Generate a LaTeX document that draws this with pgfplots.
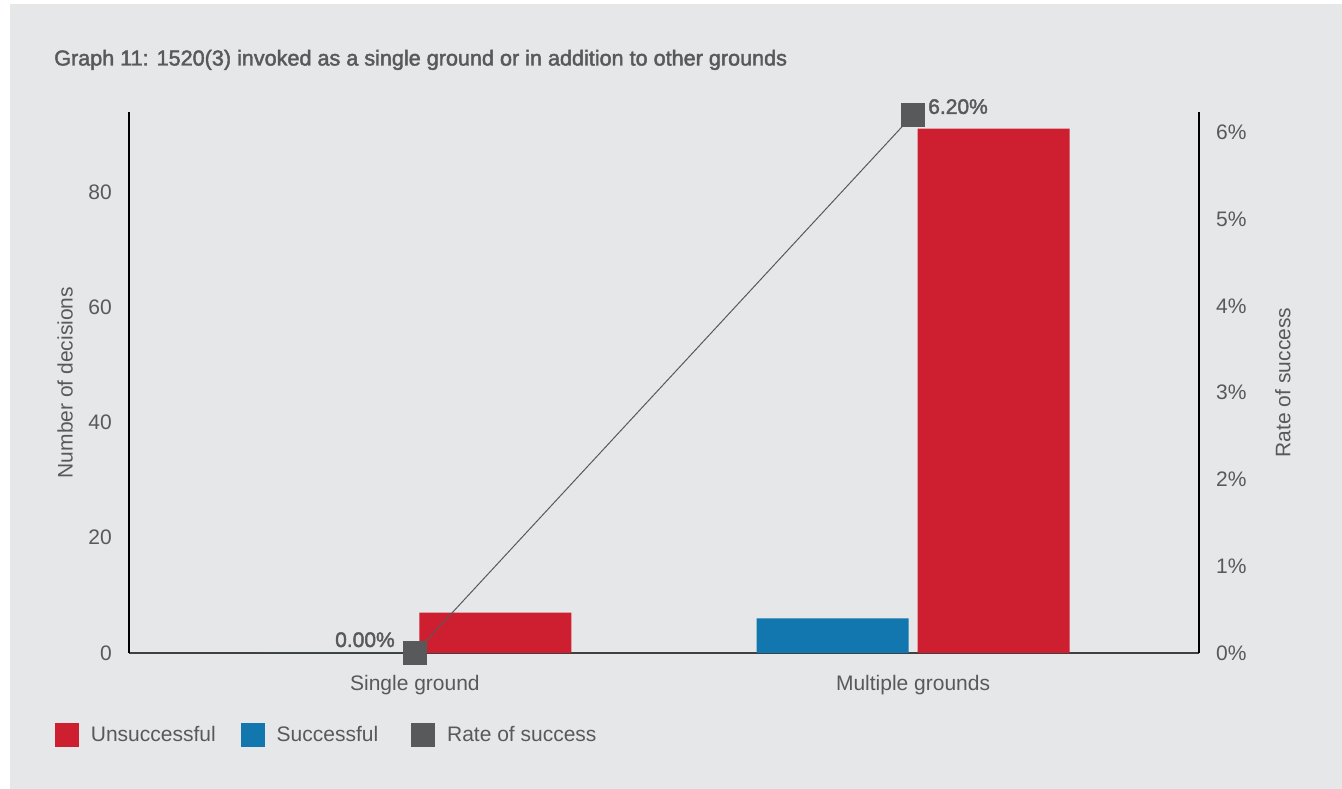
\documentclass[border=0pt]{standalone}
\usepackage{pgfplots}
\pgfplotsset{compat=1.18}
\usepackage{fontspec}
\setmainfont{Liberation Sans}
\newfontfamily\medfont{Liberation Sans}[FakeBold=2]
\definecolor{bg}{HTML}{E6E7E8}
\definecolor{ured}{HTML}{CE1F31}
\definecolor{sblue}{HTML}{1277AF}
\definecolor{rgray}{HTML}{58595B}
\definecolor{txt}{HTML}{58595B}
\newcommand{\lbl}{\fontsize{21}{25}\selectfont}
\begin{document}
\begin{tikzpicture}
\fill[white] (0,0) rectangle (1342pt,789pt);
\useasboundingbox (0,0) rectangle (1342pt,789pt);
\fill[bg] (10pt,0) rectangle (1342pt,785pt);
\node[anchor=base west, inner sep=0pt, text=txt, font=\medfont\fontsize{21.6}{25}\selectfont] at (54pt,723.5pt) {Graph 11: 1520(3) invoked as a single ground or in addition to other grounds};
\begin{axis}[
  at={(129pt,136pt)}, anchor=south west,
  scale only axis, width=1070pt, height=541pt,
  xmin=-0.574, xmax=1.574, ymin=0, ymax=93.9,
  axis x line*=bottom, axis y line*=left,
  axis line style={-},
  x axis line style={draw=black!75, line width=1.6pt},
  y axis line style={draw=black, line width=1.3pt},
  xtick={0,1}, xticklabels={Single ground, Multiple grounds},
  ytick={0,20,40,60,80},
  major tick length=0pt,
  /pgf/number format/assume math mode=true,
  tick label style={font=\lbl, text=txt},
  xticklabel style={inner sep=0pt, anchor=north, yshift=-22pt},
  yticklabel style={inner sep=0pt, anchor=east, xshift=-17pt},
  ylabel={Number of decisions},
  every axis y label/.style={at={([xshift=-64pt]rel axis cs:0,0.5)}, rotate=90, anchor=center, font=\lbl, text=txt},
  legend columns=3,
  legend style={at={([xshift=-74pt,yshift=-81.5pt]rel axis cs:0,0)}, anchor=west,
    draw=none, fill=none, inner sep=0pt, outer sep=0pt,
    font=\lbl, text=txt,
    nodes={inner sep=0pt},
    cells={anchor=base west},
    /tikz/every odd column/.append style={column sep=12.5pt},
    /tikz/every even column/.append style={column sep=25pt}},
]
\addlegendimage{legend image code/.code={\fill[ured] (0pt,-4pt) rectangle (23pt,19pt);}}
\addlegendentry{Unsuccessful}
\addlegendimage{legend image code/.code={\fill[sblue] (0pt,-4pt) rectangle (23pt,19pt);}}
\addlegendentry{Successful\rule{8pt}{0pt}}
\addlegendimage{legend image code/.code={\fill[rgray] (0pt,-4pt) rectangle (23pt,19pt);}}
\addlegendentry{Rate of success}
\addplot[ybar, bar width=152pt, bar shift=80.5pt, fill=ured, draw=none, forget plot] coordinates {(0,7) (1,91)};
\addplot[ybar, bar width=152pt, bar shift=-80.5pt, fill=sblue, draw=none, forget plot] coordinates {(0,0) (1,6)};
\end{axis}
\begin{axis}[
  at={(129pt,136pt)}, anchor=south west,
  scale only axis, width=1070pt, height=541pt,
  xmin=-0.574, xmax=1.574, ymin=0, ymax=6.233,
  axis x line=none, axis y line*=right,
  axis line style={-},
  y axis line style={draw=black, line width=1.3pt},
  ytick={0,1,2,3,4,5,6},
  major tick length=0pt,
  /pgf/number format/assume math mode=true,
  yticklabel={\pgfmathprintnumber{\tick}\%},
  yticklabel style={font=\lbl, text=txt, inner sep=0pt, anchor=west, xshift=17pt},
  ylabel={Rate of success},
  every axis y label/.style={at={([xshift=84pt]rel axis cs:1,0.5)}, rotate=90, anchor=center, font=\lbl, text=txt},
  clip=false,
]
\addplot[rgray, line width=1pt, mark=square*, mark size=11.5pt, mark options={solid, fill=rgray, draw=none}] coordinates {(0,0) (1,6.2)};
\node[anchor=base east, inner sep=0pt, font=\medfont\lbl, text=txt] at (axis cs:0,0) [xshift=-20pt, yshift=6pt] {0.00\%};
\node[anchor=base west, inner sep=0pt, font=\medfont\lbl, text=txt] at (axis cs:1,6.2) [xshift=15pt, yshift=1pt] {6.20\%};
\end{axis}
\end{tikzpicture}
\end{document}
